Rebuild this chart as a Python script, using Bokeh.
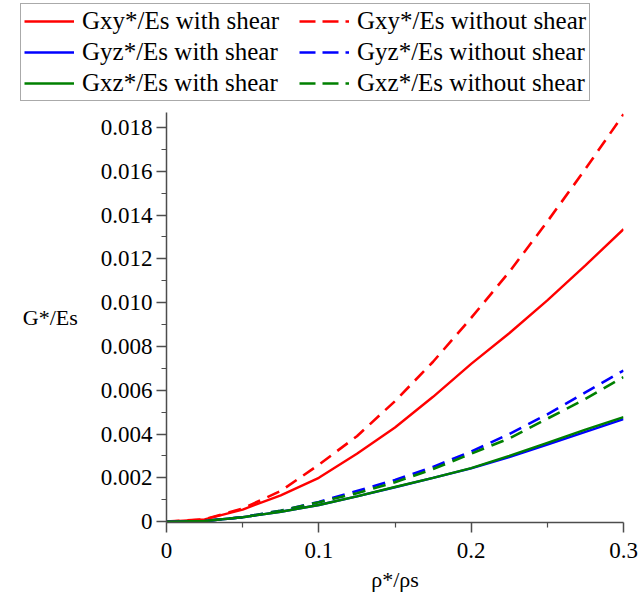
from bokeh.plotting import figure
from bokeh.models import Legend, LegendItem, FixedTicker, Range1d
from bokeh.layouts import column
from bokeh.embed import file_html
from bokeh.resources import INLINE

# ---- data ----
rho = [0.0, 0.025, 0.05, 0.075, 0.1, 0.125, 0.15, 0.175, 0.2, 0.225, 0.25, 0.275, 0.3]
gxy_with = [0.0, 0.0001, 0.00055, 0.0012, 0.002, 0.0031, 0.0043, 0.0057, 0.0072, 0.0086, 0.0101, 0.0117, 0.01335]
gxy_without = [0.0, 0.0001, 0.0006, 0.0014, 0.0026, 0.0039, 0.0055, 0.0073, 0.0093, 0.0114, 0.0137, 0.0161, 0.0186]
gyz_with = [0.0, 0.00003, 0.0002, 0.00045, 0.00076, 0.00115, 0.00157, 0.002, 0.00243, 0.00295, 0.00352, 0.0041, 0.00468]
gyz_without = [0.0, 0.00003, 0.0002, 0.0005, 0.0009, 0.0014, 0.0019, 0.0025, 0.0032, 0.004, 0.0049, 0.0059, 0.0069]
gxz_with = [0.0, 0.00003, 0.0002, 0.00045, 0.00076, 0.00115, 0.00158, 0.002, 0.00244, 0.003, 0.0036, 0.0042, 0.00477]
gxz_without = [0.0, 0.00003, 0.0002, 0.0005, 0.00088, 0.0013, 0.0018, 0.0024, 0.0031, 0.0038, 0.0047, 0.0056, 0.0066]

x_ticks = [0.0, 0.1, 0.2, 0.3]
x_tick_labels = ["0", "0.1", "0.2", "0.3"]
x_minor = [0.05, 0.15, 0.25]
y_ticks = [0.0, 0.002, 0.004, 0.006, 0.008, 0.010, 0.012, 0.014, 0.016, 0.018]
y_tick_labels = ["0", "0.002", "0.004", "0.006", "0.008", "0.010", "0.012", "0.014", "0.016", "0.018"]
y_minor = [0.001, 0.003, 0.005, 0.007, 0.009, 0.011, 0.013, 0.015, 0.017]

labels_with = ["Gxy*/Es with shear", "Gyz*/Es with shear", "Gxz*/Es with shear"]
labels_without = ["Gxy*/Es without shear", "Gyz*/Es without shear", "Gxz*/Es without shear"]
colors = ["#ff0000", "#0000ff", "#008000"]

FONT = "Liberation Serif"
AX = "#4d4d4d"
DASH = "13 8"

# ---- main plot ----
p = figure(width=639, height=500, output_backend="svg", toolbar_location=None,
           x_range=Range1d(0, 0.3), y_range=Range1d(-0.00004, 0.01868),
           min_border_left=166, min_border_right=16, min_border_top=8, min_border_bottom=82)
p.frame_align = False
p.outline_line_color = None
p.xgrid.visible = False
p.ygrid.visible = False

with_series = [gxy_with, gyz_with, gxz_with]
without_series = [gxy_without, gyz_without, gxz_without]

for ys, c in zip(without_series, colors):
    p.line(rho, ys, line_color=c, line_width=2.6, line_dash=DASH)
for ys, c in zip(with_series, colors):
    p.line(rho, ys, line_color=c, line_width=2.4)

p.xaxis.ticker = FixedTicker(ticks=x_ticks, minor_ticks=x_minor)
p.xaxis.major_label_overrides = {t: l for t, l in zip(x_ticks, x_tick_labels)}
p.xaxis.axis_label = "ρ*/ρs"
p.yaxis.ticker = FixedTicker(ticks=y_ticks, minor_ticks=y_minor)
p.yaxis.major_label_overrides = {t: l for t, l in zip(y_ticks, y_tick_labels)}
p.yaxis.axis_label = "G*/Es"
p.yaxis.axis_label_orientation = "horizontal"

for ax in (p.xaxis, p.yaxis):
    ax.axis_line_color = AX
    ax.axis_line_width = 1.5
    ax.major_tick_line_color = AX
    ax.minor_tick_line_color = AX
    ax.major_tick_line_width = 1.5
    ax.minor_tick_line_width = 1.2
    ax.major_tick_in = 0
    ax.minor_tick_in = 0
    ax.major_tick_out = 10
    ax.minor_tick_out = 5
    ax.major_label_text_font = FONT
    ax.major_label_text_font_size = "23px"
    ax.major_label_text_color = "black"
    ax.axis_label_text_font = FONT
    ax.axis_label_text_font_size = "22px"
    ax.axis_label_text_font_style = "normal"
    ax.axis_label_text_color = "black"

p.xaxis.major_label_standoff = 10
p.xaxis.axis_label_standoff = 6
p.yaxis.major_label_standoff = 4
p.yaxis.axis_label_standoff = 20

# ---- legend figure (box above the plot) ----
lf = figure(width=639, height=104, output_backend="svg", toolbar_location=None,
            x_axis_location=None, y_axis_location=None,
            x_range=Range1d(0, 1), y_range=Range1d(0, 1),
            min_border_left=0, min_border_right=0, min_border_top=0, min_border_bottom=0)
lf.frame_align = False
lf.xgrid.visible = False
lf.ygrid.visible = False
lf.outline_line_color = None

items = []
for i in range(3):
    rw = lf.line([5, 6], [5, 6], line_color=colors[i], line_width=2.4)
    rwo = lf.line([5, 6], [5, 6], line_color=colors[i], line_width=2.6, line_dash="16 7")
    items.append(LegendItem(label=labels_with[i], renderers=[rw]))
    items.append(LegendItem(label=labels_without[i], renderers=[rwo]))

legend = Legend(items=items, orientation="horizontal", nrows=3, ncols=2,
                location=(20, 3),
                label_text_font=FONT, label_text_font_size="25px", label_text_color="black",
                glyph_width=50, glyph_height=28, label_height=28, label_width=214,
                label_standoff=8, spacing=3, padding=3, margin=0,
                border_line_color="#555555", border_line_width=1.5,
                background_fill_color="white", background_fill_alpha=1.0)
lf.add_layout(legend, "center")

layout = column(lf, p, spacing=0)
open("out.html", "w").write(file_html(layout, INLINE))
